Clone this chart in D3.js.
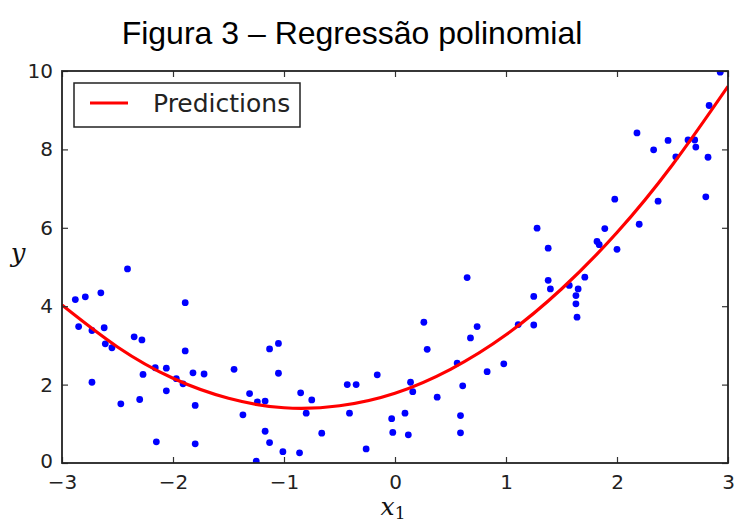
<!DOCTYPE html>
<html><head><meta charset="utf-8">
<script src="https://cdn.jsdelivr.net/npm/d3@7"></script>
<style>body{margin:0;background:#fff}svg{display:block}</style>
</head><body><div id="chart"></div>
<script>
// Scatter data (x1, y)
const xs = [-2.41,-2.88,-2.79,-2.65,-1.89,-2.85,-2.73,-2.62,-2.61,-2.55,-2.35,-2.28,-1.89,-2.16,-2.06,-2.27,-1.97,-1.91,-1.82,-1.72,-1.45,-2.73,-2.06,-2.47,-2.30,-1.80,-2.15,-1.80,
  -1.13,-1.05,-1.05,-1.31,-1.24,-1.17,-1.37,-0.85,-0.75,-0.80,-1.17,-1.13,-1.01,-0.86,-1.25,-0.66,-0.43,-0.35,-0.16,-0.41,-0.26,-0.03,-0.02,0.09,0.12,
  0.14,0.16,0.26,0.29,0.38,0.56,0.61,0.59,0.59,0.65,0.68,0.74,0.83,0.98,1.11,1.25,1.25,1.28,1.38,1.38,1.40,1.57,1.65,1.63,1.63,1.64,1.71,
  1.82,1.84,1.89,2.00,1.98,2.20,2.18,2.33,2.37,2.46,2.64,2.70,2.71,2.53,2.82,2.80,2.83,2.93];
const ys = [4.95,4.17,4.24,4.34,4.09,3.48,3.38,3.45,3.04,2.94,3.22,3.14,2.86,2.43,2.42,2.26,2.15,2.02,2.30,2.27,2.39,2.06,1.84,1.51,1.62,1.47,0.54,0.49,
  2.91,3.05,2.29,1.77,1.56,1.58,1.23,1.79,1.61,1.27,0.81,0.52,0.29,0.26,0.05,0.76,2.00,2.00,2.25,1.27,0.36,1.13,0.78,1.27,0.72,
  2.06,1.82,3.59,2.90,1.68,2.55,1.97,1.21,0.77,4.73,3.19,3.48,2.33,2.53,3.53,4.25,3.52,5.99,5.48,4.66,4.44,4.53,4.44,4.27,4.06,3.72,4.74,
  5.65,5.57,5.98,5.45,6.73,6.09,8.42,7.99,6.68,8.23,8.24,8.24,8.06,7.81,7.80,6.79,9.12,9.97];
// Predictions curve read at x1 = -3 .. 3
const predX = [-3,-2.5,-2,-1.5,-1,-0.5,0,0.5,1,1.5,2,2.5,3];
const predY = [4.03,2.96,2.16,1.65,1.41,1.46,1.78,2.39,3.27,4.44,5.88,7.61,9.61];
const xTicks = [-3,-2,-1,0,1,2,3];
const yTicks = [0,2,4,6,8,10];
const title = "Figura 3 – Regressão polinomial";
const legendLabel = "Predictions";

const W = 737, H = 528;
const m = {left:62, right:9, top:71, bottom:65};
const svg = d3.select("#chart").append("svg").attr("width", W).attr("height", H);
const x = d3.scaleLinear().domain([-3,3]).range([m.left, W - m.right]);
const y = d3.scaleLinear().domain([0,10]).range([H - m.bottom, m.top]);
const fmt = d => d < 0 ? "\u2212" + Math.abs(d) : String(d);

svg.append("text").attr("x", 352).attr("y", 44).attr("text-anchor","middle")
  .attr("font-family","'Liberation Sans', Arial, sans-serif").attr("font-size", 32)
  .attr("fill","#000").text(title);

const clip = svg.append("clipPath").attr("id","clip").append("rect")
  .attr("x", m.left).attr("y", m.top).attr("width", W-m.left-m.right).attr("height", H-m.top-m.bottom);
const plot = svg.append("g").attr("clip-path","url(#clip)");

plot.selectAll("circle").data(xs.map((v,i)=>[v, ys[i]])).enter().append("circle")
  .attr("cx", d=>x(d[0])).attr("cy", d=>y(d[1])).attr("r", 3.4).attr("fill","#0000ff");

plot.append("path").datum(predX.map((v,i)=>[v, predY[i]]))
  .attr("d", d3.line().x(d=>x(d[0])).y(d=>y(d[1])).curve(d3.curveNatural))
  .attr("fill","none").attr("stroke","#ff0000").attr("stroke-width", 3.2);

// axes with inward ticks on all sides
const tf = "'DejaVu Sans', sans-serif", ts = 20;
const gb = svg.append("g").attr("transform",`translate(0,${H-m.bottom})`)
  .call(d3.axisBottom(x).tickValues(xTicks).tickFormat(fmt).tickSizeInner(-6).tickSizeOuter(0).tickPadding(12));
const gt = svg.append("g").attr("transform",`translate(0,${m.top})`)
  .call(d3.axisTop(x).tickValues(xTicks).tickFormat("").tickSizeInner(-6).tickSizeOuter(0));
const gl = svg.append("g").attr("transform",`translate(${m.left},0)`)
  .call(d3.axisLeft(y).tickValues(yTicks).tickFormat(fmt).tickSizeInner(-6).tickSizeOuter(0).tickPadding(9));
const gr = svg.append("g").attr("transform",`translate(${W-m.right},0)`)
  .call(d3.axisRight(y).tickValues(yTicks).tickFormat("").tickSizeInner(-6).tickSizeOuter(0));
[gb,gt,gl,gr].forEach(g=>{
  g.select(".domain").remove();
  g.selectAll("line").attr("stroke","#333").attr("stroke-width",1.2);
  g.selectAll("text").attr("font-family",tf).attr("font-size",ts).attr("fill","#222");
});
gl.selectAll("text").filter(d => d === 0).attr("dy", "0.2em");
svg.append("rect").attr("x", m.left).attr("y", m.top).attr("width", W-m.left-m.right).attr("height", H-m.top-m.bottom)
  .attr("fill","none").attr("stroke","#222").attr("stroke-width",1.8);

// axis labels
svg.append("text").attr("x", 18).attr("y", 262).attr("text-anchor","middle")
  .attr("font-family","'DejaVu Serif', serif").attr("font-style","italic").attr("font-size", 26).attr("fill","#111").text("y");
const xl = svg.append("text").attr("x", 393).attr("y", 515).attr("text-anchor","middle")
  .attr("font-family","'DejaVu Serif', serif").attr("font-size", 25).attr("fill","#111");
xl.append("tspan").attr("font-style","italic").text("x");
xl.append("tspan").attr("font-size", 17).attr("dy", 4).text("1");

// legend
const lg = svg.append("g");
lg.append("rect").attr("x", 74).attr("y", 83).attr("width", 226).attr("height", 44)
  .attr("fill","#fff").attr("stroke","#222").attr("stroke-width",1.5);
lg.append("line").attr("x1", 90).attr("x2", 128).attr("y1", 103).attr("y2", 103)
  .attr("stroke","#ff0000").attr("stroke-width",3.2);
lg.append("text").attr("x", 153).attr("y", 112).attr("font-family",tf).attr("font-size", 25)
  .attr("fill","#222").text(legendLabel);
</script></body></html>
